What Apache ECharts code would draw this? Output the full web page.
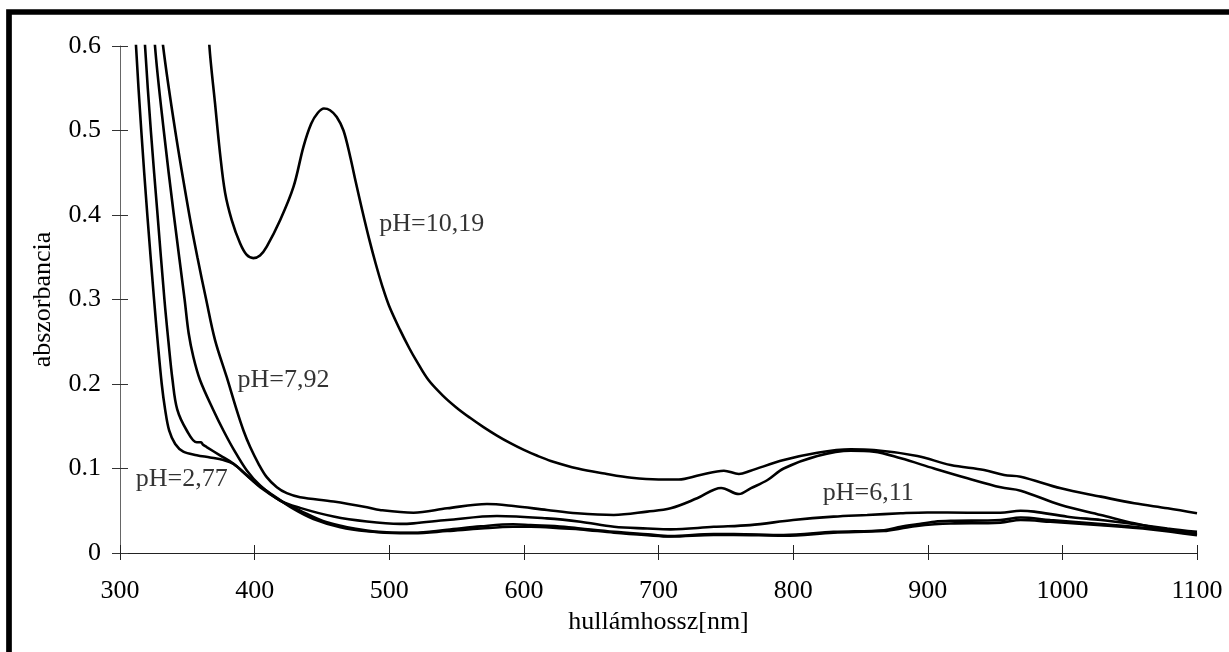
<!DOCTYPE html>
<html>
<head>
<meta charset="utf-8">
<script src="https://cdn.jsdelivr.net/npm/echarts@6/dist/echarts.min.js"></script>
<style>
html,body{margin:0;padding:0;background:#fff;}
#chart{width:1229px;height:652px;}
</style>
</head>
<body>
<div id="chart"></div>
<script>
// spektrumok: [hullamhossz nm, abszorbancia]
var ph1019 = [[363,0.70],[366.4,0.6],[370.6,0.532],[374.3,0.473],[378.1,0.426],[383,0.394],[389.2,0.3665],[394,0.353],[399,0.349],[404,0.352],[409,0.3625],[419,0.394],[428.9,0.4335],[436.3,0.481],[442,0.508],[447,0.521],[451.5,0.526],[456,0.524],[461,0.516],[466,0.5],[471,0.469],[475,0.44],[480,0.405],[485,0.372],[490,0.342],[495,0.315],[500,0.292],[508,0.264],[515,0.242],[520,0.228],[529,0.205],[540,0.186],[550,0.172],[560,0.16],[570,0.149],[580,0.139],[590,0.13],[600,0.122],[610,0.115],[620,0.109],[640,0.1],[660,0.094],[680,0.089],[700,0.087],[715,0.087],[731,0.0923],[748.6,0.0974],[759.7,0.0935],[768.4,0.0974],[793,0.110],[818,0.1187],[842.7,0.1227],[860,0.1219],[892.3,0.1148],[917,0.1041],[941.9,0.0982],[956.7,0.0923],[969,0.0903],[998.9,0.0765],[1028.6,0.0667],[1053.4,0.0588],[1078.2,0.0529],[1100,0.047]];
var ph792 = [[329.5,0.65],[332,0.6],[341,0.5],[351.5,0.4],[357.5,0.35],[364,0.3],[370.6,0.252],[379.3,0.208],[386.7,0.169],[391.7,0.145],[396.7,0.1254],[402.9,0.1056],[409,0.0898],[416.5,0.0779],[423.9,0.0708],[433.8,0.066],[458.6,0.0609],[483.4,0.0542],[493,0.0509],[518,0.0477],[543,0.0529],[572.6,0.058],[592.4,0.0556],[617.2,0.0509],[639.5,0.047],[666.8,0.045],[691.6,0.049],[709,0.0529],[728.7,0.0647],[746.5,0.077],[759.7,0.0698],[768.4,0.0765],[781,0.0864],[793,0.100],[818,0.1148],[842.7,0.1211],[860,0.120],[880,0.112],[904.7,0.100],[929.5,0.0884],[954.2,0.0777],[969,0.0738],[998.9,0.0568],[1028.6,0.045],[1053.4,0.0351],[1078,0.0272],[1100,0.0225]];
var ph611 = [[323.5,0.68],[326,0.6],[332.5,0.5],[340,0.4],[348,0.3],[351,0.26],[354.5,0.232],[359.5,0.2045],[369.4,0.169],[376.8,0.145],[384.3,0.123],[394.2,0.0977],[404.1,0.0799],[419,0.0621],[433.8,0.0534],[458.6,0.0431],[483.4,0.0372],[508,0.0345],[518,0.0351],[543,0.039],[580,0.0438],[617,0.041],[642,0.037],[667,0.031],[691.6,0.029],[709,0.028],[741,0.031],[768,0.033],[800,0.039],[830,0.043],[855,0.045],[880,0.047],[899.7,0.048],[929.5,0.0477],[954,0.0477],[969,0.050],[979,0.049],[1003.8,0.043],[1028.6,0.039],[1053,0.0343],[1078,0.029],[1100,0.025]];
var phKozep = [[316.5,0.67],[318.6,0.6],[322.9,0.5],[327.9,0.4],[333,0.3],[336,0.25],[339,0.205],[342.5,0.17],[349.6,0.145],[357,0.131],[360.2,0.131],[361.5,0.1285],[364.4,0.1254],[374.3,0.1155],[384.3,0.1056],[394.2,0.0918],[404.1,0.0779],[419,0.0621],[433.8,0.0502],[453.7,0.0364],[483.4,0.0265],[508,0.024],[518,0.024],[543,0.0275],[568,0.0315],[592,0.034],[605,0.033],[630,0.031],[642,0.029],[667,0.025],[692,0.022],[709,0.020],[741,0.0225],[756,0.0225],[793,0.0213],[830,0.025],[867.5,0.027],[880,0.031],[892,0.034],[905,0.037],[917,0.038],[954,0.039],[969,0.042],[991,0.039],[1028.6,0.0343],[1066,0.029],[1100,0.0225]];
var ph277 = [[310,0.67],[311.9,0.6],[315.8,0.5],[320.3,0.4],[325.3,0.3],[328,0.25],[331,0.2],[333.5,0.17],[336.5,0.145],[341,0.129],[347,0.12],[357,0.1158],[366.9,0.1131],[376.8,0.110],[384.3,0.1056],[391.7,0.0957],[401.6,0.0819],[414,0.068],[428.9,0.0522],[443.7,0.0403],[463.6,0.0305],[483.4,0.0257],[508,0.0235],[518,0.0235],[543,0.026],[568,0.029],[592,0.031],[605,0.031],[630,0.029],[642,0.028],[667,0.024],[692,0.021],[709,0.0195],[741,0.0215],[756,0.0215],[793,0.0205],[830,0.024],[867.5,0.026],[880,0.029],[892,0.032],[905,0.034],[917,0.035],[954,0.036],[969,0.039],[991,0.037],[1028.6,0.033],[1066,0.028],[1100,0.021]];
// feliratok: [x, y, szoveg]
var feliratok = [[531.6,0.389,'pH=10,19'],[421.4,0.2047,'pH=7,92'],[345.9,0.0876,'pH=2,77'],[855.8,0.0706,'pH=6,11']];

var betu = 'Liberation Serif';
var chart = echarts.init(document.getElementById('chart'));

function gorbe(nev, adat){
	return {
		name: nev, type: 'line', data: adat, symbol: 'none',
		smooth: 0.35, clip: true, silent: true,
		lineStyle: {color: '#000', width: 2.6}
	};
}

var option = {
	backgroundColor: '#fff',
	animation: false,
	grid: {left: 120, right: 32, top: 46, bottom: 99},
	graphic: [{
		type: 'rect', shape: {x: 9, y: 12, width: 1400, height: 800},
		style: {fill: 'none', stroke: '#000', lineWidth: 5.7}, silent: true
	}],
	xAxis: [{
		type: 'value', min: 300, max: 1100, interval: 100, position: 'bottom',
		name: 'hullámhossz[nm]', nameLocation: 'middle', nameGap: 56,
		nameTextStyle: {fontFamily: betu, fontSize: 26, color: '#000'},
		axisLine: {onZero: false, lineStyle: {color: '#222', width: 1}},
		axisTick: {length: 7, lineStyle: {color: '#222'}},
		axisLabel: {fontFamily: betu, fontSize: 26, color: '#000', margin: 25,
			formatter: function(v){ return String(v); }},
		splitLine: {show: false}
	}, {
		type: 'value', min: 300, max: 1100, interval: 100, position: 'bottom',
		axisLine: {show: false}, axisLabel: {show: false}, splitLine: {show: false},
		axisTick: {inside: true, length: 8, lineStyle: {color: '#222'}}
	}],
	yAxis: [{
		type: 'value', min: 0, max: 0.6, interval: 0.1, position: 'left',
		name: 'abszorbancia', nameLocation: 'middle', nameGap: 64, nameRotate: 90,
		nameTextStyle: {fontFamily: betu, fontSize: 26, color: '#000'},
		axisLine: {show: true, onZero: false, lineStyle: {color: '#666', width: 1}},
		axisTick: {show: true, length: 8, lineStyle: {color: '#333'}},
		axisLabel: {fontFamily: betu, fontSize: 26, color: '#000', margin: 19},
		splitLine: {show: false}
	}, {
		type: 'value', min: 0, max: 0.6, interval: 0.1, position: 'left',
		axisLine: {show: false}, axisLabel: {show: false}, splitLine: {show: false},
		axisTick: {show: true, inside: true, length: 8, lineStyle: {color: '#333'}}
	}],
	series: [
		gorbe('pH=10,19', ph1019),
		gorbe('pH=7,92', ph792),
		gorbe('pH=6,11', ph611),
		gorbe('pH kozep', phKozep),
		gorbe('pH=2,77', ph277),
		{
			type: 'scatter', data: feliratok, symbolSize: 0, silent: true,
			itemStyle: {color: '#000'},
			label: {
				show: true, position: 'inside', color: '#000',
				textBorderWidth: 0, fontFamily: betu, fontSize: 26,
				formatter: function(p){ return p.value[2]; }
			}
		}
	]
};
chart.setOption(option);
</script>
</body>
</html>
